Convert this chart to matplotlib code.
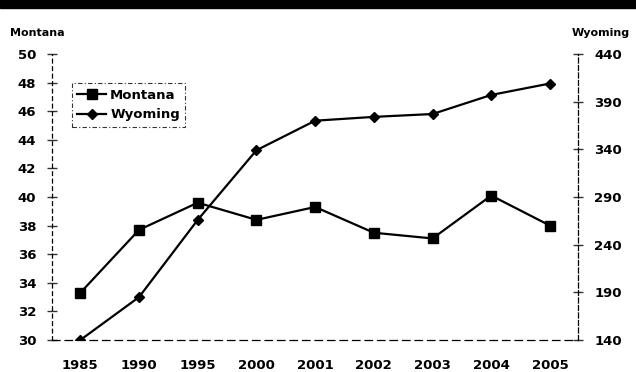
import matplotlib
matplotlib.use("Agg")
import matplotlib.pyplot as plt

plt.rcParams['font.family'] = ['DejaVu Sans']
plt.rcParams['font.weight'] = 'bold'

years = ['1985', '1990', '1995', '2000', '2001', '2002', '2003', '2004', '2005']
montana = [33.3, 37.7, 39.6, 38.4, 39.3, 37.5, 37.1, 40.1, 38.0]
wyoming = [140, 185, 266, 339, 370, 374, 377, 397, 409]

montana_ticks = list(range(30, 51, 2))
wyoming_ticks = list(range(140, 441, 50))

fig = plt.figure(figsize=(6.36, 3.72), dpi=100)
ax = fig.add_axes([0.082, 0.086, 0.827, 0.769])
ax2 = ax.twinx()

x = list(range(len(years)))
l1, = ax.plot(x, montana, color='black', lw=1.6, marker='s', ms=6.5,
              label='Montana')
l2, = ax2.plot(x, wyoming, color='black', lw=1.6, marker='D', ms=5,
               label='Wyoming')

ax.set_xlim(-0.48, 8.48)
ax.set_ylim(30, 50)
ax2.set_ylim(140, 440)
ax.set_xticks(x)
ax.set_xticklabels(years)
ax.set_yticks(montana_ticks)
ax2.set_yticks(wyoming_ticks)

for a in (ax, ax2):
    for s in a.spines.values():
        s.set_visible(False)
    a.tick_params(labelsize=9.5, length=4, width=1, color='#333333')

ax.spines['left'].set_visible(True)
ax.spines['left'].set_linestyle((0, (3, 3)))
ax.spines['left'].set_linewidth(0.9)
ax.spines['bottom'].set_visible(True)
ax.spines['bottom'].set_linestyle((0, (6, 4)))
ax.spines['bottom'].set_linewidth(0.9)
ax2.spines['right'].set_visible(True)
ax2.spines['right'].set_linestyle((0, (4, 2)))
ax2.spines['right'].set_linewidth(0.9)

ax.tick_params(axis='x', length=0, pad=14)
ax.tick_params(axis='y', direction='inout', length=7, pad=8)
ax2.tick_params(axis='y', direction='inout', length=7, pad=8)

for lab in ax.get_xticklabels() + ax.get_yticklabels() + ax2.get_yticklabels():
    lab.set_fontweight('bold')

fig.text(0.016, 0.912, 'Montana', fontsize=8, fontweight='bold', ha='left', va='center')
fig.text(0.99, 0.912, 'Wyoming', fontsize=8, fontweight='bold', ha='right', va='center')

leg = ax.legend(handles=[l1, l2], loc='upper left', bbox_to_anchor=(0.025, 0.92),
                fontsize=9.5, frameon=True, fancybox=False, handlelength=2.2,
                handletextpad=0.3, borderpad=0.4, labelspacing=0.5)
leg.get_frame().set_edgecolor('black')
leg.get_frame().set_linestyle((0, (4, 2, 1, 2)))
leg.get_frame().set_linewidth(0.8)
for t in leg.get_texts():
    t.set_fontweight('bold')

# dark title band along the top edge
fig.patches.append(plt.Rectangle((0, 0.978), 1, 0.022, transform=fig.transFigure,
                                 color='black', zorder=0))

fig.savefig('out.png', dpi=100)
